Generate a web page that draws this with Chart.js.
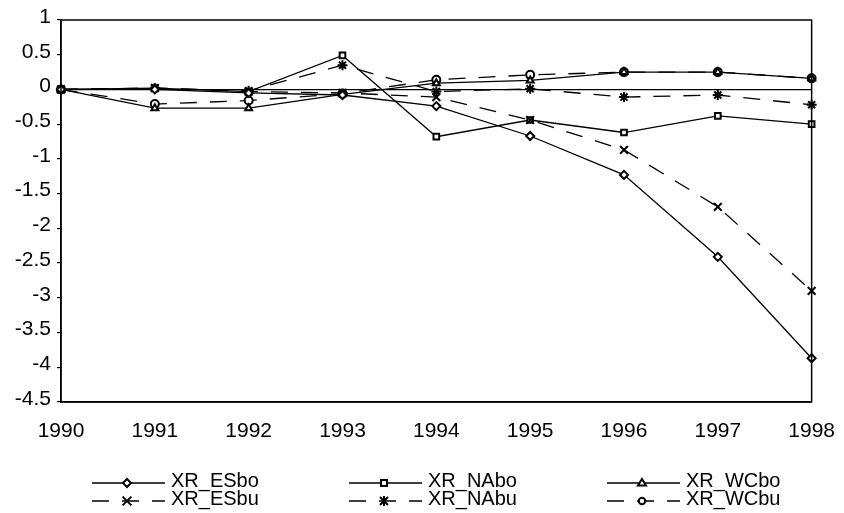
<!DOCTYPE html>
<html>
<head>
<meta charset="utf-8">
<script src="https://cdn.jsdelivr.net/npm/chart.js@4/dist/chart.umd.min.js"></script>
<style>
  body { margin: 0; background: #fff; }
  canvas { display: block; }
</style>
</head>
<body>
<canvas id="myChart" width="844" height="513"></canvas>
<script>
// years on the x axis
const years = ["1990", "1991", "1992", "1993", "1994", "1995", "1996", "1997", "1998"];

// series
const esbo = [0, 0, -0.05, -0.08, -0.24, -0.67, -1.23, -2.41, -3.87];
const esbu = [0, 0.02, -0.03, -0.05, -0.11, -0.44, -0.87, -1.69, -2.9];
const nabo = [0, 0.02, -0.03, 0.49, -0.68, -0.44, -0.62, -0.38, -0.5];
const nabu = [0, 0.02, -0.02, 0.35, -0.03, 0.01, -0.11, -0.08, -0.22];
const wcbo = [0, -0.27, -0.27, -0.07, 0.09, 0.13, 0.25, 0.25, 0.16];
const wcbu = [0, -0.21, -0.16, -0.06, 0.14, 0.21, 0.25, 0.25, 0.16];

const seriesNames = ["XR_ESbo", "XR_ESbu", "XR_NAbo", "XR_NAbu", "XR_WCbo", "XR_WCbu"];
const yTicks = [1, 0.5, 0, -0.5, -1, -1.5, -2, -2.5, -3, -3.5, -4, -4.5];

const dash = [17, 13];

function makeDataset(label, data, pointStyle, dashed, radius) {
  return {
    label: label,
    data: data,
    borderColor: "#000",
    borderWidth: 1.3,
    borderDash: dashed ? dash : [],
    pointStyle: pointStyle,
    pointRadius: radius,
    pointBorderWidth: 2,
    pointBorderColor: "#000",
    pointBackgroundColor: "#fff",
    tension: 0,
    fill: false,
  };
}

const datasets = [
  makeDataset(seriesNames[0], esbo, "rectRot", false, 4),
  makeDataset(seriesNames[1], esbu, "crossRot", true, 5.5),
  makeDataset(seriesNames[2], nabo, "rect", false, 4),
  makeDataset(seriesNames[3], nabu, "star", true, 5),
  makeDataset(seriesNames[4], wcbo, "triangle", false, 4),
  makeDataset(seriesNames[5], wcbu, "circle", true, 4),
];

// small marker drawer for the legend
function drawMarker(ctx, style, x, y, r) {
  ctx.save();
  ctx.setLineDash([]);
  ctx.lineWidth = 2;
  ctx.strokeStyle = "#000";
  ctx.fillStyle = "#fff";
  ctx.beginPath();
  if (style === "rectRot") {
    ctx.moveTo(x, y - r);
    ctx.lineTo(x + r, y);
    ctx.lineTo(x, y + r);
    ctx.lineTo(x - r, y);
    ctx.closePath();
    ctx.fill();
    ctx.stroke();
  } else if (style === "rect") {
    const s = r * 0.75;
    ctx.rect(x - s, y - s, 2 * s, 2 * s);
    ctx.fill();
    ctx.stroke();
  } else if (style === "triangle") {
    ctx.moveTo(x, y - r);
    ctx.lineTo(x + r, y + r * 0.6);
    ctx.lineTo(x - r, y + r * 0.6);
    ctx.closePath();
    ctx.fill();
    ctx.stroke();
  } else if (style === "circle") {
    ctx.arc(x, y, r * 0.8, 0, Math.PI * 2);
    ctx.fill();
    ctx.stroke();
  } else {
    const s = r * 0.8;
    ctx.moveTo(x - s, y - s);
    ctx.lineTo(x + s, y + s);
    ctx.moveTo(x + s, y - s);
    ctx.lineTo(x - s, y + s);
    if (style === "star") {
      ctx.moveTo(x, y - r);
      ctx.lineTo(x, y + r);
    }
    ctx.stroke();
  }
  ctx.restore();
}

// frame around the plot and the two-row legend under it
const framePlugin = {
  id: "frame",
  afterDraw(chart) {
    const ctx = chart.ctx;
    const a = chart.chartArea;
    ctx.save();
    ctx.strokeStyle = "#000";
    ctx.lineWidth = 1.5;
    ctx.strokeRect(a.left, a.top, a.right - a.left, a.bottom - a.top);

    const colX = [92, 349, 607];
    const rowY = [483, 501];
    const lineLen = 73;
    ctx.font = "20px 'Liberation Sans', Arial, sans-serif";
    ctx.fillStyle = "#000";
    ctx.textBaseline = "middle";
    chart.data.datasets.forEach((ds, i) => {
      const x = colX[Math.floor(i / 2)];
      const y = rowY[i % 2];
      ctx.beginPath();
      ctx.lineWidth = 1.3;
      ctx.setLineDash(ds.borderDash);
      ctx.moveTo(x, y);
      ctx.lineTo(x + lineLen, y);
      ctx.stroke();
      ctx.setLineDash([]);
      drawMarker(ctx, ds.pointStyle, x + 35, y, ds.pointRadius);
      ctx.fillText(ds.label, x + lineLen + 6, y - 2);
    });
    ctx.restore();
  },
};

const myChart = new Chart(document.getElementById("myChart"), {
  type: "line",
  data: { labels: years, datasets: datasets },
  plugins: [framePlugin],
  options: {
    responsive: false,
    animation: false,
    layout: { padding: { top: 20, right: 31, left: 0, bottom: 0 } },
    plugins: {
      legend: { display: false },
      tooltip: { enabled: false },
    },
    scales: {
      x: {
        offset: false,
        grid: { display: false },
        border: { display: true, color: "#000", width: 1.5 },
        ticks: {
          color: "#000",
          font: { family: "'Liberation Sans', Arial, sans-serif", size: 21 },
          padding: 9,
          maxRotation: 0,
          autoSkip: false,
        },
        afterFit: (scale) => {
          scale.height = 111;
        },
      },
      y: {
        min: -4.5,
        max: 1,
        afterBuildTicks: (scale) => {
          scale.ticks = yTicks.map((v) => ({ value: v }));
        },
        grid: {
          color: (c) => (c.tick && c.tick.value === 0 ? "#000" : "rgba(0,0,0,0)"),
          lineWidth: 1.2,
          tickColor: "#000",
          tickLength: 4,
          drawTicks: true,
        },
        border: { display: true, color: "#000", width: 1.5 },
        ticks: {
          color: "#000",
          font: { family: "'Liberation Sans', Arial, sans-serif", size: 21 },
          padding: 6,
          labelOffset: -3,
          callback: (v) => String(v),
        },
        afterFit: (scale) => {
          scale.width = 61;
        },
      },
    },
  },
});
</script>
</body>
</html>
